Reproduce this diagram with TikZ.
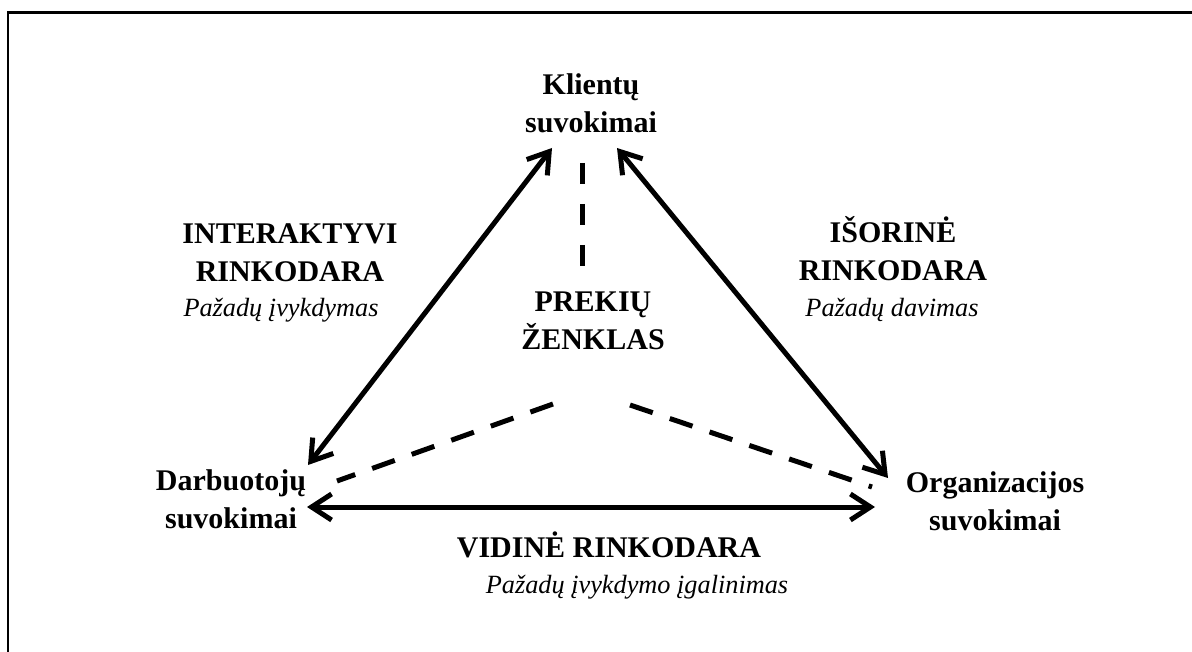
\documentclass[tikz,border=0pt]{standalone}
\usepackage{fontspec}
\setmainfont{Liberation Serif}
\usetikzlibrary{arrows.meta}
\begin{document}
\begin{tikzpicture}[x=1pt,y=-1pt,
  lbl/.style={inner sep=0pt,anchor=base,align=center,
    font=\fontsize{30}{38}\selectfont\bfseries},
  sub/.style={inner sep=0pt,anchor=base,
    font=\fontsize{26.3}{32}\selectfont\itshape},
  link/.style={line width=5pt,{Straight Barb[length=20pt,width=26pt]}-{Straight Barb[length=20pt,width=26pt]}},
  tie/.style={line width=5pt,dash pattern=on 24pt off 18pt}]
\useasboundingbox (0,0) rectangle (1192,652);
\clip (0,0) rectangle (1192,652);
% outer frame
\draw[line width=2.8pt] (8,12.5) rectangle (1220,680);

% corner labels (placed by the baseline of their last line)
\node[lbl] (kl) at (591,133) {Klientų\\suvokimai};
\node[lbl] (db) at (231,528) {Darbuotojų\\suvokimai};
\node[lbl] (org) at (995,530) {Organizacijos\\suvokimai};
\node[lbl] (brand) at (593,350) {PREKIŲ\\ŽENKLAS};

% side labels
\node[lbl] (inter) at (290,282) {INTERAKTYVI\\RINKODARA};
\node[sub] (intersub) at (281,317) {Pažadų įvykdymas};
\node[lbl] (isor) at (893,281) {IŠORINĖ\\RINKODARA};
\node[sub] (isorsub) at (892,317) {Pažadų davimas};
\node[lbl] (vid) at (609,557) {VIDINĖ RINKODARA};
\node[sub] (vidsub) at (637,593) {Pažadų įvykdymo įgalinimas};

% arrow tips
\coordinate (klL) at (552,148);
\coordinate (klR) at (617,148);
\coordinate (dbT) at (308,465);
\coordinate (dbR) at (307,507);
\coordinate (orT) at (888,478);
\coordinate (orL) at (875,507);

% dashed ties to the brand
\coordinate (brT) at (582,163);
\coordinate (brTe) at (582,266);
\coordinate (brL) at (553,404);
\coordinate (brLe) at (337,481);
\coordinate (brR) at (630,405);
\coordinate (brRe) at (872,487);

\draw[link] (klL) -- (dbT);
\draw[link] (klR) -- (orT);
\draw[link] (dbR) -- (orL);

\draw[tie,dash pattern=on 21pt off 20pt] (brT) -- (brTe);
\draw[tie] (brL) -- (brLe);
\draw[tie] (brR) -- (brRe);
\end{tikzpicture}
\end{document}
